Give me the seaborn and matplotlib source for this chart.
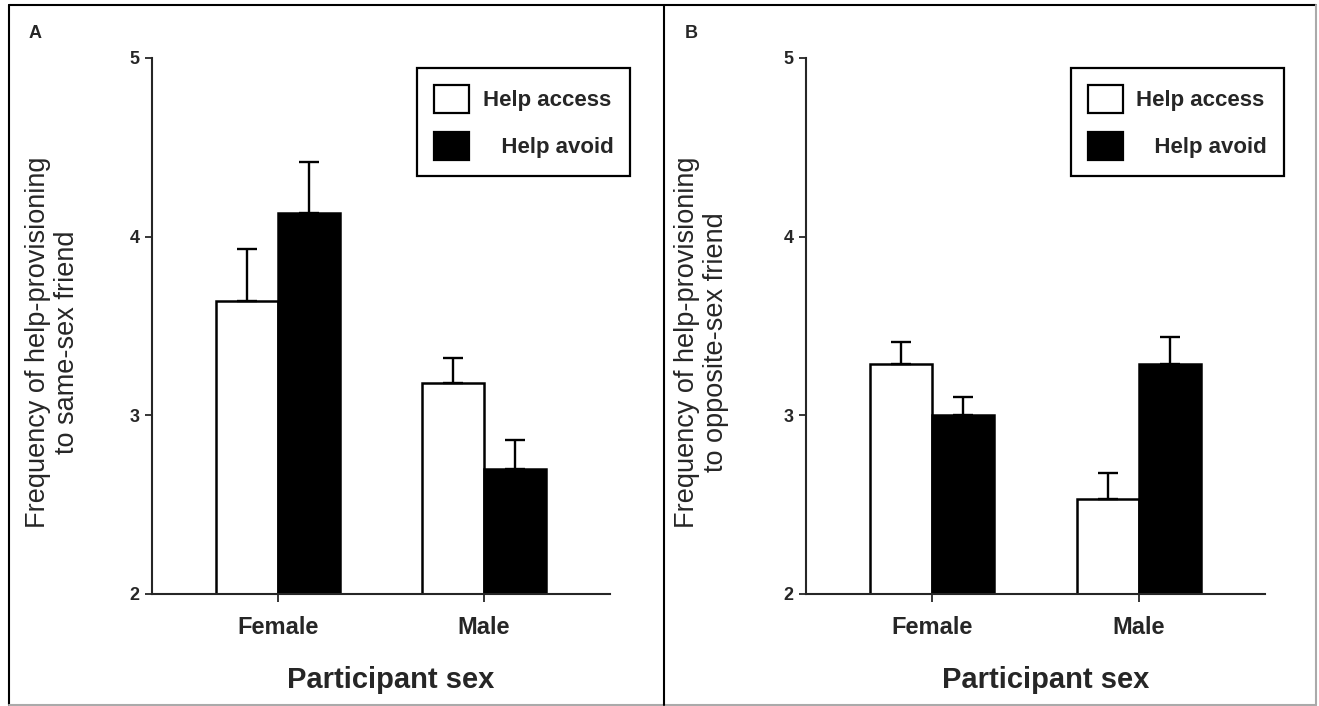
import numpy as np
import pandas as pd
import matplotlib
matplotlib.use("Agg")
import matplotlib.pyplot as plt
import matplotlib.patches as mpatches
from matplotlib.lines import Line2D
import seaborn as sns

# Data
sexes = ["Female", "Male"]
conditions = ["Help access", "Help avoid"]

same_access = [3.64, 3.18]
same_avoid = [4.13, 2.70]
same_access_se = [0.29, 0.14]
same_avoid_se = [0.29, 0.16]

opp_access = [3.29, 2.53]
opp_avoid = [3.00, 3.29]
opp_access_se = [0.12, 0.15]
opp_avoid_se = [0.10, 0.15]

yticks = [2, 3, 4, 5]
ylabel_a = "Frequency of help-provisioning\nto same-sex friend"
ylabel_b = "Frequency of help-provisioning\nto opposite-sex friend"
xlabel = "Participant sex"

sns.set_style("ticks")
plt.rcParams["font.family"] = ["Liberation Sans", "DejaVu Sans"]

W, H = 1319, 706
fig = plt.figure(figsize=(W / 100, H / 100), dpi=100)


def make_df(access, avoid, access_se, avoid_se):
    return pd.DataFrame({
        "sex": sexes * 2,
        "condition": [conditions[0]] * 2 + [conditions[1]] * 2,
        "mean": access + avoid,
        "se": access_se + avoid_se,
    })


def draw_panel(ax, df, ylabel, ylab_x, leg_x):
    sns.barplot(data=df, x="sex", y="mean", hue="condition", order=sexes,
                hue_order=conditions, palette={"Help access": "white", "Help avoid": "black"},
                edgecolor="black", linewidth=1.8, width=0.6, errorbar=None,
                legend=False, ax=ax)

    # one-sided (upward) error bars on each bar
    for cond, cont in zip(conditions, ax.containers):
        sub = df[df["condition"] == cond].set_index("sex").loc[sexes]
        xs = [b.get_x() + b.get_width() / 2 for b in cont]
        hs = [b.get_height() for b in cont]
        ax.errorbar(xs, hs, yerr=[np.zeros(len(xs)), sub["se"].values],
                    fmt="none", ecolor="black", elinewidth=1.7,
                    capsize=7.5, capthick=1.7, zorder=1)

    ax.set_ylim(2, 5)
    ax.set_xlim(-0.612, 1.612)
    ax.set_yticks(yticks)
    sns.despine(ax=ax)
    for s in ["left", "bottom"]:
        ax.spines[s].set_linewidth(1.5)
    ax.tick_params(axis="y", length=5, width=1.3, pad=4, labelsize=13)
    ax.tick_params(axis="x", length=6, width=1.3, pad=10, labelsize=17)
    for lab in ax.get_xticklabels() + ax.get_yticklabels():
        lab.set_fontweight("bold")

    ax.set_xlabel(xlabel, fontsize=21, fontweight="bold")
    ax.xaxis.set_label_coords(0.522, -0.134)
    ax.set_ylabel(ylabel, fontsize=19.5, linespacing=1.15)
    ax.yaxis.set_label_coords(ylab_x, 0.47)

    handles = [mpatches.Patch(facecolor="white", edgecolor="black", linewidth=1.6),
               mpatches.Patch(facecolor="black", edgecolor="black", linewidth=1.6)]
    leg = ax.legend(handles, ["Help access", "   Help avoid"], loc="upper right",
                    bbox_to_anchor=(leg_x, 0.981), borderaxespad=0,
                    prop={"size": 16, "weight": "bold"}, frameon=True,
                    fancybox=False, framealpha=1, edgecolor="black",
                    handlelength=1.6, handleheight=1.56, labelspacing=0.85,
                    handletextpad=0.6, borderpad=0.75)
    leg.get_frame().set_linewidth(1.6)


axA = fig.add_axes([152 / W, 1 - 594 / H, 458 / W, 536 / H])
axB = fig.add_axes([806 / W, 1 - 594 / H, 459 / W, 536 / H])

draw_panel(axA, make_df(same_access, same_avoid, same_access_se, same_avoid_se),
           ylabel_a, -0.157, 1.044)
draw_panel(axB, make_df(opp_access, opp_avoid, opp_access_se, opp_avoid_se),
           ylabel_b, -0.168, 1.041)

# panel letters
fig.text(35 / W, 1 - 33 / H, "A", fontsize=13, fontweight="bold", ha="center", va="center")
fig.text(691 / W, 1 - 33 / H, "B", fontsize=13, fontweight="bold", ha="center", va="center")

# outer frame and panel divider
frame = [((9, 5), (9, 705), "black"), ((9, 5), (1316, 5), "black"),
         ((1316, 5), (1316, 705), "#aaaaaa"), ((9, 705), (1316, 705), "#aaaaaa"),
         ((664, 5), (664, 705), "black")]
for (x0, y0), (x1, y1), c in frame:
    fig.add_artist(Line2D([x0 / W, x1 / W], [1 - y0 / H, 1 - y1 / H],
                          transform=fig.transFigure, color=c, linewidth=1.5))

fig.savefig("out.png", dpi=100)
